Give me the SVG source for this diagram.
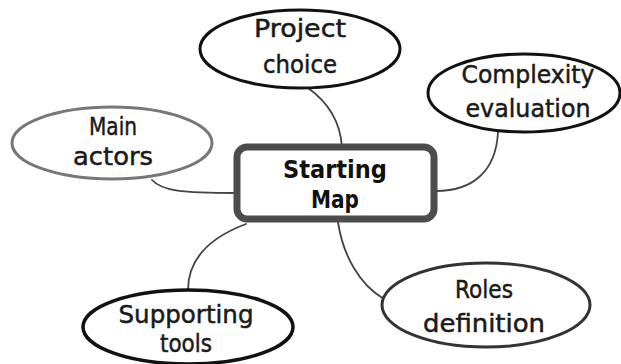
<svg xmlns="http://www.w3.org/2000/svg" width="621" height="364" viewBox="0 0 621 364">
  <style>
    .link { fill: none; stroke: #444; stroke-width: 1.8; stroke-linecap: round; }
    .bubble { fill: #fff; stroke: #111; stroke-width: 3; }
    .label { font-family: "DejaVu Sans", "Liberation Sans", sans-serif; font-size: 24px; fill: #1a1a1a; stroke: #1a1a1a; stroke-width: 0.5; text-anchor: middle; }
    .hub { fill: #fff; stroke: #4d4d4d; stroke-width: 7; }
    .hub-label { font-family: "DejaVu Sans", "Liberation Sans", sans-serif; font-size: 24px; font-weight: bold; fill: #111; text-anchor: middle; }
  </style>
  <rect width="621" height="364" fill="#fff"/>

  <!-- connectors between the central map and its branches -->
  <g id="connectors">
    <path class="link" d="M 308 88 C 325 100, 340 118, 342 147"/>
    <path class="link" d="M 498 132 C 496 172, 472 191, 436 191"/>
    <path class="link" d="M 152 180 C 162 191, 182 193, 236 193"/>
    <path class="link" d="M 246 224 C 214 236, 188 256, 188 290"/>
    <path class="link" d="M 338 222 C 343 256, 360 285, 384 299"/>
  </g>

  <g id="starting-map">
    <rect class="hub" x="237" y="147" width="197" height="72" rx="10" ry="10"/>
    <text class="hub-label" x="335" y="178" textLength="104" lengthAdjust="spacingAndGlyphs">Starting</text>
    <text class="hub-label" x="335" y="208" textLength="48" lengthAdjust="spacingAndGlyphs">Map</text>
  </g>

  <g id="project-choice">
    <ellipse class="bubble" cx="300" cy="49" rx="100" ry="39"/>
    <text class="label" x="300" y="37" textLength="92" lengthAdjust="spacingAndGlyphs">Project</text>
    <text class="label" x="300" y="73" textLength="74" lengthAdjust="spacingAndGlyphs">choice</text>
  </g>

  <g id="complexity-evaluation">
    <ellipse class="bubble" cx="524" cy="93" rx="96" ry="39"/>
    <text class="label" x="528" y="83" textLength="133" lengthAdjust="spacingAndGlyphs">Complexity</text>
    <text class="label" x="528" y="117" textLength="125" lengthAdjust="spacingAndGlyphs">evaluation</text>
  </g>

  <g id="main-actors">
    <ellipse class="bubble" cx="112" cy="143" rx="100" ry="36" style="stroke:#777"/>
    <text class="label" x="113" y="135" textLength="48" lengthAdjust="spacingAndGlyphs">Main</text>
    <text class="label" x="113" y="165" textLength="80" lengthAdjust="spacingAndGlyphs">actors</text>
  </g>

  <g id="supporting-tools">
    <ellipse class="bubble" cx="188" cy="327" rx="105" ry="37" style="stroke-width:3.5"/>
    <text class="label" x="186" y="323" textLength="135" lengthAdjust="spacingAndGlyphs">Supporting</text>
    <text class="label" x="186" y="352" textLength="52" lengthAdjust="spacingAndGlyphs">tools</text>
  </g>

  <g id="roles-definition">
    <ellipse class="bubble" cx="486" cy="305" rx="104" ry="42" style="stroke:#333"/>
    <text class="label" x="484" y="298" textLength="58" lengthAdjust="spacingAndGlyphs">Roles</text>
    <text class="label" x="484" y="332" textLength="122" lengthAdjust="spacingAndGlyphs">definition</text>
  </g>
</svg>
